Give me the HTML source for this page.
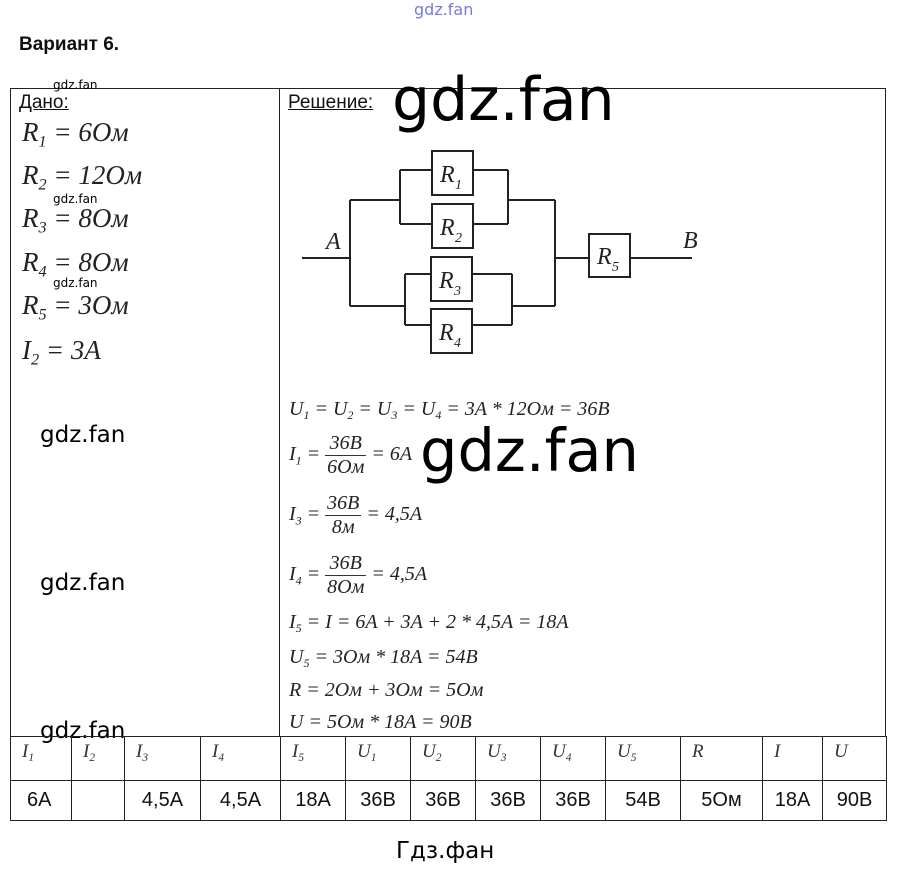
<!DOCTYPE html>
<html><head><meta charset="utf-8"><style>
body{margin:0;width:897px;height:871px;background:#fff;position:relative;overflow:hidden;font-family:"Liberation Sans",sans-serif;color:#111}
.a{position:absolute;white-space:nowrap}
.m{font-family:"Liberation Serif",serif;font-style:italic;color:#222}
.g{font-size:27px}
.s{font-size:20px}
sub{font-size:60%;vertical-align:-0.35em}
.wm{font-family:"DejaVu Sans",sans-serif;color:#000}
.fr{display:inline-block;vertical-align:middle;text-align:center;line-height:1.15}
.fr span{display:block;padding:0 2px}
.fr span:first-child{border-bottom:1px solid #333}
table{position:absolute;left:10px;top:736px;border-collapse:collapse}
td{border:1px solid #222;padding:0;height:43px}
tr.h td{font-family:"Liberation Serif",serif;font-style:italic;font-size:19px;vertical-align:top;padding:4px 0 0 11px;height:39px;color:#333}
tr.v td{font-size:20px;text-align:center;height:39px}
</style></head><body>
<div class="a wm" style="left:414px;top:0;font-size:16px;color:#7a7ae0">gdz.fan</div>
<div class="a" style="left:19px;top:34px;font-size:19px;font-weight:bold">Вариант 6.</div>
<div style="position:absolute;left:10px;top:88px;width:876px;height:648px;border:1px solid #222;border-bottom:none;box-sizing:border-box"></div>
<div style="position:absolute;left:279px;top:88px;width:1px;height:648px;background:#222"></div>
<div class="a wm" style="left:53px;top:78px;font-size:12px">gdz.fan</div>
<div class="a" style="left:19px;top:92px;font-size:19px;text-decoration:underline">Дано:</div>
<div class="a" style="left:288px;top:92px;font-size:19px;text-decoration:underline">Решение:</div>
<div class="a wm" style="left:392px;top:65px;font-size:60px">gdz.fan</div>
<div class="a m g" style="left:22px;top:117px">R<sub>1</sub> = 6<i>Ом</i></div>
<div class="a m g" style="left:22px;top:160px">R<sub>2</sub> = 12<i>Ом</i></div>
<div class="a wm" style="left:53px;top:192px;font-size:12px">gdz.fan</div>
<div class="a m g" style="left:22px;top:203px">R<sub>3</sub> = 8<i>Ом</i></div>
<div class="a m g" style="left:22px;top:247px">R<sub>4</sub> = 8<i>Ом</i></div>
<div class="a wm" style="left:53px;top:276px;font-size:12px">gdz.fan</div>
<div class="a m g" style="left:22px;top:290px">R<sub>5</sub> = 3<i>Ом</i></div>
<div class="a m g" style="left:22px;top:335px">I<sub>2</sub> = 3A</div>
<div class="a wm" style="left:40px;top:422px;font-size:23px">gdz.fan</div>
<div class="a wm" style="left:40px;top:570px;font-size:23px">gdz.fan</div>
<div class="a wm" style="left:40px;top:718px;font-size:23px">gdz.fan</div>
<svg style="position:absolute;left:0;top:0" width="897" height="871">
<g stroke="#222" stroke-width="2" fill="none">
<path d="M302 258H350M350 200V306M350 200H400M400 170V224M400 170H432M400 224H432M473 170H508M473 224H508M508 170V224M508 200H555M555 200V306M350 306H405M405 274V325M405 274H431M405 325H431M472 274H512M472 325H512M512 274V325M512 306H555M555 258H589M630 258H692"/>
<rect x="432" y="151" width="41" height="44"/><rect x="432" y="204" width="41" height="44"/>
<rect x="431" y="257" width="41" height="44"/><rect x="431" y="309" width="41" height="44"/>
<rect x="589" y="234" width="41" height="43"/>
</g>
<g font-family="Liberation Serif" font-style="italic" font-size="24" fill="#222">
<text x="440" y="182">R</text><text x="455" y="189" font-size="14">1</text>
<text x="440" y="235">R</text><text x="455" y="242" font-size="14">2</text>
<text x="439" y="288">R</text><text x="454" y="295" font-size="14">3</text>
<text x="439" y="340">R</text><text x="454" y="347" font-size="14">4</text>
<text x="597" y="264">R</text><text x="612" y="271" font-size="14">5</text>
<text x="326" y="249">A</text><text x="683" y="248">B</text>
</g></svg>
<div class="a m s" style="left:289px;top:398px">U<sub>1</sub> = U<sub>2</sub> = U<sub>3</sub> = U<sub>4</sub> = 3A * 12<i>Ом</i> = 36B</div>
<div class="a m s" style="left:289px;top:432px">I<sub>1</sub> = <span class="fr"><span>36B</span><span>6<i>Ом</i></span></span> = 6A</div>
<div class="a wm" style="left:420px;top:416px;font-size:59px">gdz.fan</div>
<div class="a m s" style="left:289px;top:492px">I<sub>3</sub> = <span class="fr"><span>36B</span><span>8<i>м</i></span></span> = 4,5A</div>
<div class="a m s" style="left:289px;top:552px">I<sub>4</sub> = <span class="fr"><span>36B</span><span>8<i>Ом</i></span></span> = 4,5A</div>
<div class="a m s" style="left:289px;top:611px">I<sub>5</sub> = I = 6A + 3A + 2 * 4,5A = 18A</div>
<div class="a m s" style="left:289px;top:646px">U<sub>5</sub> = 3<i>Ом</i> * 18A = 54B</div>
<div class="a m s" style="left:289px;top:679px">R = 2<i>Ом</i> + 3<i>Ом</i> = 5<i>Ом</i></div>
<div class="a m s" style="left:289px;top:711px">U = 5<i>Ом</i> * 18A = 90B</div>
<table>
<tr class="h"><td style="width:49px">I<sub>1</sub></td><td style="width:41px">I<sub>2</sub></td><td style="width:64px">I<sub>3</sub></td><td style="width:68px">I<sub>4</sub></td><td style="width:53px">I<sub>5</sub></td><td style="width:53px">U<sub>1</sub></td><td style="width:53px">U<sub>2</sub></td><td style="width:53px">U<sub>3</sub></td><td style="width:53px">U<sub>4</sub></td><td style="width:63px">U<sub>5</sub></td><td style="width:70px">R</td><td style="width:48px">I</td><td style="width:52px">U</td></tr>
<tr class="v"><td style="text-align:left;padding-left:16px">6A</td><td></td><td>4,5A</td><td>4,5A</td><td>18A</td><td>36B</td><td>36B</td><td>36B</td><td>36B</td><td>54B</td><td>5Ом</td><td>18A</td><td>90B</td></tr>
</table>
<div class="a wm" style="left:396px;top:838px;font-size:23px">Гдз.фан</div>
</body></html>
